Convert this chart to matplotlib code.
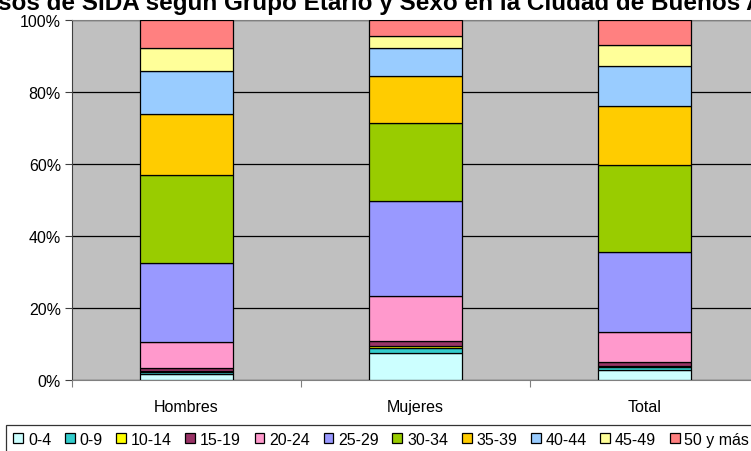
import numpy as np
import matplotlib
matplotlib.use("Agg")
import matplotlib.pyplot as plt
from matplotlib.patches import Patch

plt.rcParams["font.family"] = ["Liberation Sans", "DejaVu Sans"]

# ── Data (% por grupo etario) ───────────────────────────────────────────
CATEGORIES = ["Hombres", "Mujeres", "Total"]
GROUPS = ["0-4", "0-9", "10-14", "15-19", "20-24", "25-29",
          "30-34", "35-39", "40-44", "45-49", "50 y más"]
HOMBRES = [1.8, 0.4, 0.2, 0.8, 7.4, 21.9, 24.4, 17.0, 11.9, 6.3, 7.9]
MUJERES = [7.5, 1.5, 0.3, 1.4, 12.5, 26.6, 21.4, 13.3, 7.6, 3.5, 4.4]
TOTAL   = [2.7, 1.0, 0.3, 1.1, 8.3, 22.2, 24.1, 16.4, 11.1, 5.8, 7.0]
COLORS = ["#CCFFFF", "#33CCCC", "#FFFF00", "#993366", "#FF99CC", "#9999FF",
          "#99CC00", "#FFCC00", "#99CCFF", "#FFFF99", "#FF8080"]
TITLE = "Casos de SIDA según Grupo Etario y Sexo en la Ciudad de Buenos Aires"
FS = 11.5

W, H = 751, 452
fig = plt.figure(figsize=(W / 100, H / 100), dpi=100)
ax = fig.add_axes([72 / W, (H - 381) / H, (759 - 72) / W, (381 - 20.7) / H])
ax.set_facecolor("#C0C0C0")

data = np.array([HOMBRES, MUJERES, TOTAL])
data = data / data.sum(axis=1, keepdims=True) * 100
x = np.arange(len(CATEGORIES))
bottom = np.zeros(len(CATEGORIES))
for i, g in enumerate(GROUPS):
    ax.bar(x, data[:, i], bottom=bottom, width=0.406, color=COLORS[i],
           edgecolor="black", linewidth=0.9, zorder=3)
    bottom += data[:, i]

ax.set_xlim(-0.5, 2.5)
ax.set_ylim(0, 100)
ax.set_yticks(np.arange(0, 101, 20))
ax.set_yticklabels([f"{v}%" for v in range(0, 101, 20)], fontsize=FS)
ax.yaxis.grid(True, color="black", linewidth=0.9, zorder=1)
ax.set_axisbelow(True)
ax.set_xticks([-0.5, 0.5, 1.5, 2.5])
ax.set_xticklabels([])
ax.set_xticks(x, minor=True)
ax.set_xticklabels(CATEGORIES, minor=True, fontsize=FS)
ax.tick_params(axis="x", which="minor", length=0, pad=14)
ax.tick_params(axis="x", which="major", length=5, color="#808080")
ax.tick_params(axis="y", length=5, pad=3, color="#404040")
for s in ["top", "right"]:
    ax.spines[s].set_color("#808080")
ax.spines["left"].set_color("#404040")
ax.spines["bottom"].set_color("#808080")

# title is cut by the image edges in the original
fig.text(-33 / W, 1 - 10 / H, TITLE, fontsize=17.5, fontweight="bold",
         ha="left", va="baseline")

handles = [Patch(facecolor=c, edgecolor="black", linewidth=0.9) for c in COLORS]
leg = fig.legend(handles, GROUPS, loc="lower left", ncol=len(GROUPS),
                 bbox_to_anchor=(6 / W, -3 / H), fontsize=FS, frameon=True,
                 fancybox=False, handlelength=0.62, handleheight=0.62,
                 handletextpad=0.3, columnspacing=0.85, borderpad=0.45,
                 borderaxespad=0)
leg.get_frame().set_edgecolor("black")
leg.get_frame().set_linewidth(0.9)

fig.savefig("out.png", dpi=100)
